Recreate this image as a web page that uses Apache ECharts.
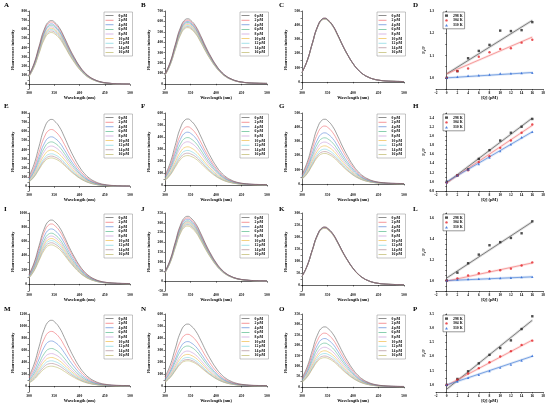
<!DOCTYPE html>
<html>
<head>
<meta charset="utf-8">
<script src="https://cdn.jsdelivr.net/npm/echarts@6/dist/echarts.min.js"></script>
<style>
html, body { margin: 0; padding: 0; background: #ffffff; }
#main { width: 550px; height: 408px; }
</style>
</head>
<body>
<div id="main"></div>
<script>
// wavelength grid (nm) and normalised emission shape
var waveNm = [300, 310, 320, 330, 340, 345, 350, 360, 370, 380, 390, 400, 410, 420, 430, 440, 450, 460, 470, 480, 490, 500];
var bandShape = [0.15, 0.33, 0.60, 0.86, 0.99, 1.0, 0.98, 0.89, 0.74, 0.57, 0.42, 0.29, 0.19, 0.12, 0.075, 0.045, 0.028, 0.018, 0.012, 0.009, 0.007, 0.006];

var concLabels = ['0 μM', '2 μM', '4 μM', '6 μM', '8 μM', '10 μM', '12 μM', '14 μM', '16 μM'];
var concColors = ['#5f5f5f', '#f06a6e', '#5a87d8', '#58b98e', '#c99ad9', '#efbe4c', '#7fd5e0', '#b08a95', '#bdb869'];

// peak intensity of each curve (0 .. 16 μM)
var peaksA = [695, 680, 660, 645, 628, 612, 598, 582, 565];
var peaksB = [625, 612, 600, 590, 580, 570, 560, 550, 540];
var peaksC = [450, 449, 448, 447, 446, 445, 444, 443, 442];
var peaksE = [730, 620, 540, 485, 440, 395, 355, 330, 310];
var peaksF = [550, 485, 440, 395, 360, 318, 288, 265, 245];
var peaksG = [456, 408, 360, 325, 295, 268, 245, 228, 215];
var peaksI = [900, 845, 775, 715, 675, 640, 610, 580, 550];
var peaksJ = [333, 325, 318, 310, 305, 300, 295, 290, 283];
var peaksK = [242, 241, 240, 240, 239, 238, 238, 237, 236];
var peaksM = [1095, 910, 750, 625, 540, 475, 420, 375, 330];
var peaksN = [516, 431, 370, 333, 291, 263, 238, 221, 210];
var peaksO = [288, 258, 232, 210, 190, 173, 160, 148, 140];

// Stern-Volmer plots
var qConc = [0, 2, 4, 6, 8, 10, 12, 14, 16];
var tempLabels = ['298 K', '304 K', '310 K'];
var svD298 = [1.00, 1.03, 1.088, 1.121, 1.148, 1.212, 1.21, 1.214, 1.25];
var svD304 = [1.00, 1.03, 1.042, 1.095, 1.115, 1.13, 1.133, 1.158, 1.171];
var svD310 = [1.00, 1.005, 1.01, 1.012, 1.015, 1.02, 1.02, 1.022, 1.023];
var fitD = [[1.018, 1.258], [1.018, 1.183], [1.0, 1.024]];
var svH298 = [1.0, 1.14, 1.27, 1.50, 1.69, 1.90, 2.07, 2.20, 2.37];
var svH304 = [0.98, 1.14, 1.25, 1.43, 1.56, 1.74, 1.90, 2.07, 2.25];
var svH310 = [0.99, 1.14, 1.27, 1.39, 1.53, 1.67, 1.82, 1.97, 2.09];
var fitH = [[0.98, 2.39], [0.98, 2.23], [1.0, 2.09]];
var svL298 = [1.0, 1.076, 1.167, 1.25, 1.34, 1.37, 1.41, 1.455, 1.57];
var svL304 = [1.0, 1.02, 1.05, 1.07, 1.09, 1.10, 1.115, 1.145, 1.175];
var svL310 = [1.0, 1.01, 1.015, 1.018, 1.02, 1.025, 1.027, 1.033, 1.036];
var fitL = [[1.025, 1.565], [0.995, 1.17], [1.0, 1.036]];
var svP298 = [1.0, 1.21, 1.48, 1.76, 2.06, 2.30, 2.57, 2.97, 3.42];
var svP304 = [1.0, 1.18, 1.40, 1.59, 1.80, 2.0, 2.19, 2.41, 2.56];
var svP310 = [1.0, 1.12, 1.25, 1.36, 1.49, 1.61, 1.72, 1.86, 2.03];
var fitP = [[0.85, 3.28], [0.98, 2.58], [1.0, 2.01]];

var tempMarkColors = ['#222222', '#e3262b', '#2a66d6'];
var tempLineColors = ['#555555', '#f27b7b', '#4d84d8'];
var tempSymbols = ['rect', 'circle', 'triangle'];

var FONT = '"Liberation Serif", "DejaVu Serif", serif';
var colLeft = [29, 165, 302, 436];
var colWidth = [101, 102, 102, 107];
var rowTop = [11, 113, 213, 314];
var rowHeight = 78;
var letterLeft = [4, 141, 279, 413];
var letterTop = [2, 103, 206, 306];

var grids = [], xAxes = [], yAxes = [], series = [], legends = [], titles = [];

function isMajor(v, step) {
	var r = v / step;
	return Math.abs(r - Math.round(r)) < 1e-6;
}

function axisCommon() {
	return {
		axisLine: {show: true, lineStyle: {color: '#000', width: 0.6}},
		axisTick: {show: true, length: 1.5, inside: false, lineStyle: {color: '#000', width: 0.5}},
		splitLine: {show: false},
		nameTextStyle: {fontFamily: FONT, fontWeight: 'bold', fontSize: 4.3, color: '#000'}
	};
}

function addPanel(row, col, letter) {
	grids.push({left: colLeft[col], top: rowTop[row], width: colWidth[col], height: rowHeight, containLabel: false});
	titles.push({
		text: letter, left: letterLeft[col], top: letterTop[row], padding: 0,
		textStyle: {fontFamily: FONT, fontWeight: 'bold', fontSize: 7, color: '#000'}
	});
	return grids.length - 1;
}

function addSpectrum(row, col, letter, peaks, ymin, ymax, interval, step) {
	var g = addPanel(row, col, letter);
	var xa = axisCommon();
	xa.gridIndex = g; xa.type = 'value'; xa.min = 300; xa.max = 500; xa.interval = 50;
	xa.name = 'Wavelength (nm)'; xa.nameLocation = 'middle'; xa.nameGap = 7;
	xa.axisLabel = {fontFamily: FONT, fontWeight: 'bold', fontSize: 3.6, color: '#000', margin: 2};
	xAxes.push(xa);
	var ya = axisCommon();
	ya.gridIndex = g; ya.type = 'value'; ya.min = ymin; ya.max = ymax; ya.interval = interval;
	ya.name = 'Fluorescence intensity'; ya.nameLocation = 'middle'; ya.nameGap = 14;
	ya.axisLabel = {fontFamily: FONT, fontWeight: 'bold', fontSize: 3.6, color: '#000', margin: 2,
		formatter: function (v) { return isMajor(v, step) ? String(v) : ''; }};
	yAxes.push(ya);
	for (var k = 0; k < peaks.length; k++) {
		var pts = [];
		for (var i = 0; i < waveNm.length; i++) {
			pts.push([waveNm[i], bandShape[i] * peaks[k]]);
		}
		series.push({
			name: concLabels[k], type: 'line', xAxisIndex: g, yAxisIndex: g,
			data: pts, smooth: 0.5, symbol: 'none', z: 10 - k,
			lineStyle: {color: concColors[k], width: 0.6},
			itemStyle: {color: concColors[k]}
		});
	}
	legends.push({
		data: concLabels, orient: 'vertical', selectedMode: false,
		left: colLeft[col] + 75, top: rowTop[row] + 1,
		icon: 'rect', itemWidth: 8, itemHeight: 0.7, itemGap: 0.4,
		padding: [1.5, 2, 1.5, 1.5],
		borderColor: '#8a8a8a', borderWidth: 0.5, backgroundColor: '#fff',
		textStyle: {fontFamily: FONT, fontWeight: 'bold', fontSize: 3.8, lineHeight: 4.2, color: '#000', width: 12, align: 'right'}
	});
}

function addStern(row, letter, s298, s304, s310, fits, ymin, ymax, interval, step) {
	var col = 3;
	var g = addPanel(row, col, letter);
	var xa = axisCommon();
	xa.gridIndex = g; xa.type = 'value'; xa.min = -2; xa.max = 18; xa.interval = 2;
	xa.name = '[Q] (μM)'; xa.nameLocation = 'middle'; xa.nameGap = 7;
	xa.axisLabel = {fontFamily: FONT, fontWeight: 'bold', fontSize: 3.6, color: '#000', margin: 2};
	xAxes.push(xa);
	var ya = axisCommon();
	ya.gridIndex = g; ya.type = 'value'; ya.min = ymin; ya.max = ymax; ya.interval = interval;
	ya.name = 'F₀/F'; ya.nameLocation = 'middle'; ya.nameGap = 10;
	ya.axisLabel = {fontFamily: FONT, fontWeight: 'bold', fontSize: 3.6, color: '#000', margin: 2,
		formatter: function (v) { return isMajor(v, step) ? v.toFixed(1) : ''; }};
	yAxes.push(ya);
	var sets = [s298, s304, s310];
	for (var t = 0; t < 3; t++) {
		var line = [[0, fits[t][0]], [16, fits[t][1]]];
		// pale confidence band behind the fit
		series.push({
			name: tempLabels[t] + ' band', type: 'line', xAxisIndex: g, yAxisIndex: g,
			data: line, symbol: 'none', silent: true, z: 1,
			lineStyle: {color: tempLineColors[t], width: 2.6, opacity: 0.18}
		});
		series.push({
			name: tempLabels[t] + ' fit', type: 'line', xAxisIndex: g, yAxisIndex: g,
			data: line, symbol: 'none', z: 2,
			lineStyle: {color: tempLineColors[t], width: 0.7}
		});
		var pts = [];
		for (var i = 0; i < qConc.length; i++) pts.push([qConc[i], sets[t][i]]);
		series.push({
			name: tempLabels[t], type: 'scatter', xAxisIndex: g, yAxisIndex: g,
			data: pts, symbol: tempSymbols[t], symbolSize: 2.4, z: 5,
			itemStyle: {color: tempMarkColors[t]}
		});
	}
	legends.push({
		data: tempLabels, orient: 'vertical', selectedMode: false,
		left: colLeft[col] + 7, top: rowTop[row] + 1,
		itemWidth: 3, itemHeight: 2.4, itemGap: 0.6,
		padding: [1.5, 2, 1.5, 2],
		borderColor: '#333', borderWidth: 0.5, backgroundColor: '#fff',
		textStyle: {fontFamily: FONT, fontWeight: 'bold', fontSize: 3.8, lineHeight: 4.2, color: '#000'}
	});
}

addSpectrum(0, 0, 'A', peaksA, -50, 800, 50, 100);
addSpectrum(0, 1, 'B', peaksB, -50, 700, 50, 100);
addSpectrum(0, 2, 'C', peaksC, -50, 500, 50, 100);
addStern(0, 'D', svD298, svD304, svD310, fitD, 0.95, 1.30, 0.05, 0.1);
addSpectrum(1, 0, 'E', peaksE, -50, 800, 50, 100);
addSpectrum(1, 1, 'F', peaksF, -50, 600, 50, 100);
addSpectrum(1, 2, 'G', peaksG, -50, 500, 50, 100);
addStern(1, 'H', svH298, svH304, svH310, fitH, 0.8, 2.5, 0.1, 0.2);
addSpectrum(2, 0, 'I', peaksI, -100, 1000, 100, 200);
addSpectrum(2, 1, 'J', peaksJ, -50, 350, 50, 50);
addSpectrum(2, 2, 'K', peaksK, -25, 300, 25, 50);
addStern(2, 'L', svL298, svL304, svL310, fitL, 0.9, 1.65, 0.05, 0.2);
addSpectrum(3, 0, 'M', peaksM, -100, 1200, 100, 200);
addSpectrum(3, 1, 'N', peaksN, -50, 600, 50, 100);
addSpectrum(3, 2, 'O', peaksO, -25, 350, 25, 50);
addStern(3, 'P', svP298, svP304, svP310, fitP, 0.75, 3.5, 0.25, 0.5);

var chart = echarts.init(document.getElementById('main'));
chart.setOption({
	backgroundColor: '#ffffff',
	animation: false,
	title: titles,
	legend: legends,
	grid: grids,
	xAxis: xAxes,
	yAxis: yAxes,
	series: series
});
</script>
</body>
</html>
